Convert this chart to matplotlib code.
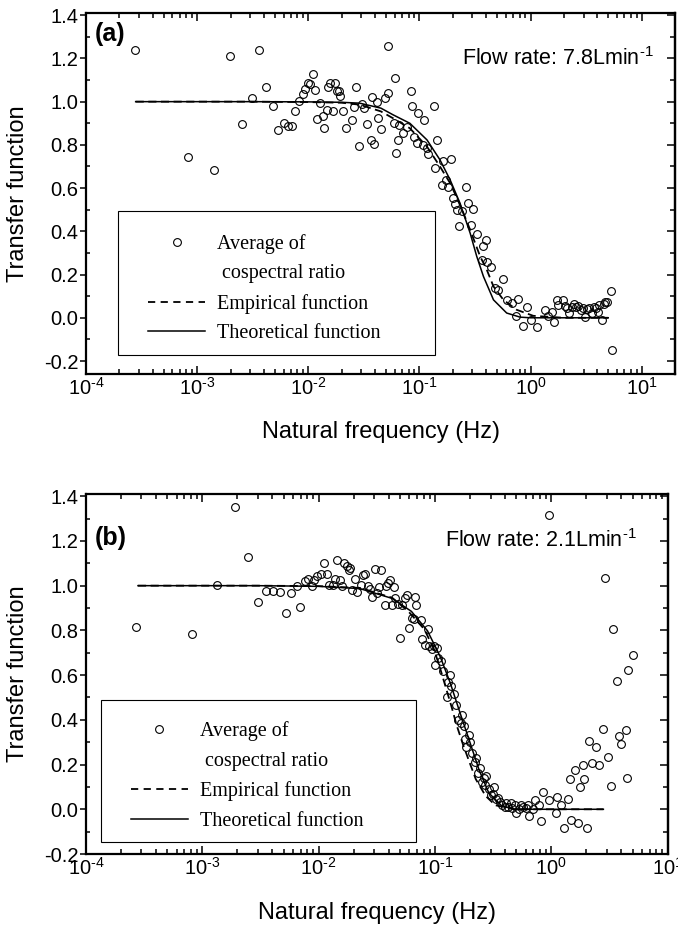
import matplotlib
matplotlib.use("Agg")
import matplotlib.pyplot as plt
import numpy as np
from matplotlib.lines import Line2D
from matplotlib.patches import Rectangle
from matplotlib.ticker import (MultipleLocator, LogLocator, FormatStrFormatter,
                               NullFormatter, FuncFormatter)

plt.rcParams['font.family'] = ['Liberation Sans', 'DejaVu Sans']
plt.rcParams['mathtext.fontset'] = 'custom'
plt.rcParams['mathtext.rm'] = 'Liberation Sans'
plt.rcParams['mathtext.it'] = 'Liberation Sans:italic'
plt.rcParams['mathtext.bf'] = 'Liberation Sans:bold'
plt.rcParams['mathtext.default'] = 'regular'
plt.rcParams['axes.unicode_minus'] = False

##### Values #####

# Panel (a), 7.8 L/min: cospectral ratio points (log10 of frequency, ratio)
a_logf = [-3.56, -3.08, -2.85, -2.70, -2.60, -2.51, -2.44, -2.38, -2.32, -2.27,
          -2.22, -2.18, -2.15, -2.12, -2.08, -2.05, -2.03, -2.00, -1.98, -1.96,
          -1.94, -1.92, -1.89, -1.87, -1.86, -1.83, -1.82, -1.80, -1.78, -1.76,
          -1.74, -1.72, -1.71, -1.69, -1.66, -1.61, -1.59, -1.57, -1.54, -1.28,
          -1.22, -1.08, -1.52, -1.50,
          -1.43, -1.38, -1.28, -1.31, -1.47, -1.37, -1.35, -1.44, -1.41, -1.21,
          -1.23, -1.18, -1.15, -1.11, -1.19, -1.07, -1.01, -0.96, -0.87, -1.05,
          -1.02, -0.97, -0.93, -0.92, -0.84, -0.79, -0.72, -0.86, -0.76, -0.80,
          -0.74, -0.58, -0.70, -0.68, -0.66, -0.62, -0.56, -0.52, -0.64, -0.54,
          -0.48, -0.40, -0.43, -0.44, -0.39, -0.36, -0.25, -0.32, -0.29, -0.21,
          -0.17, -0.11, -0.03, -0.07, 0.06, 0.13, 0.24, -0.13, 0.00,
          0.29, 0.33, 0.37, 0.41, 0.45, 0.49, 0.53, 0.57, 0.61, 0.64,
          0.66, 0.69, 0.72, 0.73, 0.19, 0.21, 0.25, 0.16,
          0.31, 0.35, 0.39, 0.43, 0.47, 0.51, 0.55, 0.59, 0.62, 0.67]
a_ratio = [1.237, 0.743, 0.685, 1.211, 0.897, 1.015, 1.238, 1.069, 0.980, 0.868,
           0.900, 0.886, 0.886, 0.958, 1.005, 1.035, 1.058, 1.088, 1.080, 1.126,
           1.055, 0.920, 0.995, 0.934, 0.877, 0.962, 1.068, 1.088, 0.958, 1.088,
           1.050, 1.048, 1.026, 0.957, 0.878, 0.914, 0.977, 1.066, 0.795, 1.258,
           1.111, 1.049, 0.990, 0.970,
           1.023, 1.000, 1.042, 1.016, 0.897, 0.923, 0.872, 0.823, 0.805, 0.764,
           0.903, 0.892, 0.857, 0.882, 0.823, 0.980, 0.946, 0.916, 0.980, 0.838,
           0.811, 0.800, 0.785, 0.758, 0.823, 0.727, 0.734, 0.692, 0.638, 0.615,
           0.604, 0.607, 0.556, 0.527, 0.500, 0.496, 0.533, 0.503, 0.425, 0.430,
           0.388, 0.361, 0.330, 0.268, 0.260, 0.237, 0.179, 0.137, 0.129, 0.083,
           0.068, 0.086, 0.052, -0.037, -0.043, 0.037, 0.080, 0.006, -0.009,
           0.081, 0.043, 0.050, 0.050, 0.035, 0.005, 0.043, 0.050, 0.027, -0.011,
           0.065, 0.073, 0.126, -0.148, 0.027, -0.018, 0.058, 0.010,
           0.055, 0.020, 0.065, 0.055, 0.045, 0.040, 0.020, 0.045, 0.060, 0.075]

# Panel (a) fitted curves (frequency in Hz, transfer function)
a_emp_f = [2.8e-4, 1e-3, 3e-3, 0.01, 0.02, 0.029, 0.045, 0.058, 0.082, 0.117, 0.153,
           0.189, 0.232, 0.286, 0.352, 0.404, 0.464, 0.57, 0.75, 1.06, 2.0, 5.0]
a_emp = [1.0, 1.0, 1.0, 0.998, 0.995, 0.986, 0.955, 0.923, 0.877, 0.792, 0.700,
         0.623, 0.523, 0.407, 0.284, 0.222, 0.145, 0.083, 0.037, 0.009, 0.0, 0.0]
a_theo_f = [2.8e-4, 1e-3, 3e-3, 0.01, 0.02, 0.029, 0.045, 0.058, 0.082, 0.117, 0.153,
            0.189, 0.232, 0.286, 0.328, 0.377, 0.464, 0.61, 0.805, 1.0, 2.0, 5.0]
a_theo = [1.0, 1.0, 1.0, 0.999, 0.997, 0.993, 0.970, 0.939, 0.900, 0.823, 0.731,
          0.638, 0.530, 0.392, 0.284, 0.191, 0.083, 0.022, 0.003, 0.0, 0.0, 0.0]

# Panel (b), 2.1 L/min: cospectral ratio points (log10 of frequency, ratio)
b_logf = [-3.57, -3.09, -2.87, -2.72, -2.61, -2.52, -2.45, -2.39, -2.33, -2.28,
          -2.24, -2.19, -2.16, -2.12, -2.09, -2.06, -2.04, -2.01, -1.98, -1.95,
          -1.93, -1.91, -1.88, -1.86, -1.84, -1.82, -1.80, -1.78, -1.76, -1.74,
          -1.73, -1.71, -1.69, -1.67, -1.64, -1.62, -1.60, -1.58, -1.56, -1.54,
          -1.52, -1.50, -1.48, -1.46, -1.43, -1.42, -1.40, -1.39, -1.37, -1.35,
          -1.34, -1.32, -1.30, -1.28, -1.26, -1.24, -1.22, -1.20, -1.18, -1.17,
          -1.16, -1.12, -1.11, -1.09, -1.06, -1.05, -1.03, -1.01, -0.98, -0.02,
          0.46, 0.53,
          -1.00, -0.97, -0.95, -0.93, -0.90, -0.89, -0.86, -0.84, -0.82, -0.80,
          -0.78, -0.75, -0.74, -0.73, -0.70, -0.68, -0.66, -0.63, -0.61, -0.60,
          -0.58, -0.56, -0.54, -0.52, -0.49, -0.48, -0.44, -0.42, -0.39, -0.37,
          -0.34, -0.31, -0.30, -0.26, -0.24, -0.22, -0.19, -0.14, -0.11, -0.09,
          -0.07, -0.02, 0.04, 0.05, 0.08, 0.11, 0.14, 0.16, 0.17, 0.20,
          0.23, 0.25, 0.27, 0.28, 0.31, 0.32, 0.35, 0.38, 0.41, 0.44,
          0.49, 0.51, 0.56, 0.58, 0.60, 0.64, 0.65, 0.66, 0.70,
          -0.87, -0.77, -0.71, -0.65, -0.57, -0.50, -0.46, -0.40, -0.35, -0.28,
          -0.20, -0.16]
b_ratio = [0.817, 0.786, 1.003, 1.350, 1.129, 0.929, 0.974, 0.974, 0.971, 0.876,
           0.967, 0.997, 0.904, 1.021, 1.029, 1.000, 1.026, 1.043, 1.053, 1.103,
           1.053, 1.003, 1.003, 1.031, 1.114, 1.026, 1.000, 1.100, 1.086, 1.071,
           1.079, 0.979, 1.031, 0.971, 1.003, 1.046, 1.054, 1.000, 0.983, 0.950,
           1.074, 0.969, 0.994, 1.071, 0.914, 1.000, 1.014, 1.026, 0.914, 0.993,
           0.943, 0.917, 0.764, 0.914, 0.943, 0.957, 0.811, 0.857, 0.850, 0.950,
           0.914, 0.846, 0.761, 0.736, 0.807, 0.731, 0.717, 0.729, 0.721, 1.314,
           1.036, 0.807,
           0.646, 0.675, 0.661, 0.617, 0.502, 0.567, 0.552, 0.516, 0.466, 0.401,
           0.387, 0.372, 0.314, 0.278, 0.300, 0.250, 0.213, 0.163, 0.185, 0.120,
           0.141, 0.149, 0.091, 0.062, 0.098, 0.048, 0.033, 0.019, 0.026, 0.012,
           0.004, 0.019, -0.017, 0.019, 0.012, 0.004, -0.032, 0.040, 0.019, -0.053,
           0.076, 0.040, -0.017, 0.055, 0.019, -0.082, 0.048, 0.134, -0.046, 0.177,
           -0.061, 0.098, 0.199, 0.134, -0.082, 0.304, 0.206, 0.278, 0.199, 0.358,
           0.235, 0.105, 0.574, 0.329, 0.290, 0.353, 0.141, 0.625, 0.689,
           0.600, 0.420, 0.330, 0.230, 0.110, 0.070, 0.050, 0.010, 0.030, 0.000,
           0.020, 0.000]

# Panel (b) fitted curves (frequency in Hz, transfer function)
b_emp_f = [2.8e-4, 1e-3, 3e-3, 0.01, 0.0226, 0.0428, 0.059, 0.081, 0.098, 0.110,
           0.123, 0.139, 0.153, 0.174, 0.198, 0.224, 0.272, 0.33, 0.48, 1.0, 2.8]
b_emp = [1.0, 1.0, 1.0, 0.998, 0.990, 0.946, 0.885, 0.805, 0.715, 0.635,
         0.550, 0.457, 0.378, 0.290, 0.210, 0.135, 0.060, 0.018, 0.0, 0.0, 0.0]
b_theo_f = [2.8e-4, 1e-3, 3e-3, 0.01, 0.0226, 0.0428, 0.0627, 0.0862, 0.111, 0.135,
            0.163, 0.198, 0.240, 0.290, 0.375, 0.48, 1.0, 2.8]
b_theo = [1.0, 1.0, 1.0, 0.997, 0.987, 0.943, 0.885, 0.798, 0.682, 0.566,
          0.436, 0.305, 0.174, 0.073, 0.015, 0.0, 0.0, 0.0]

legend_labels = ['Average of', ' cospectral ratio', 'Empirical function', 'Theoretical function']

##### End of values #####

dash = (0, (4.5, 2.5))


def decade_label(v, pos):
    # short hyphen in the exponent, as in the original figure
    e = int(round(np.log10(v)))
    if e < 0:
        return r'$\mathdefault{10^{\text{-}%d}}$' % (-e)
    return r'$\mathdefault{10^{%d}}$' % e


def draw_panel(ax, logf, ratio, emp_f, emp, theo_f, theo, xmax, ymin, tag, flow,
               tag_y, flow_xy, box, leg_anchor, xlab_y):
    ax.plot(10 ** np.array(logf), ratio, 'o', ms=5.6, mfc='none', mec='k', mew=0.8)
    ax.plot(emp_f, emp, color='k', lw=1.3, linestyle=dash)
    ax.plot(theo_f, theo, color='k', lw=1.1)

    ax.set_xscale('log')
    ax.set_xlim(1e-4, xmax)
    ax.set_ylim(ymin, 1.41)
    ax.xaxis.set_major_locator(LogLocator(base=10, numticks=10))
    ax.xaxis.set_major_formatter(FuncFormatter(decade_label))
    ax.xaxis.set_minor_locator(LogLocator(base=10, subs=np.arange(2, 10), numticks=20))
    ax.xaxis.set_minor_formatter(NullFormatter())
    ax.yaxis.set_major_locator(MultipleLocator(0.2))
    ax.yaxis.set_minor_locator(MultipleLocator(0.1))
    ax.yaxis.set_major_formatter(FormatStrFormatter('%.1f'))

    ax.tick_params(axis='x', which='both', direction='in', top=True, bottom=True,
                   labelsize=14.5, pad=2, width=1.1)
    ax.tick_params(axis='x', which='major', length=6)
    ax.tick_params(axis='x', which='minor', length=3.5)
    ax.tick_params(axis='y', which='both', right=False, labelsize=14.5, width=1.1)
    ax.tick_params(axis='y', which='major', direction='out', length=4.5, pad=1)
    ax.tick_params(axis='y', which='minor', direction='in', length=3)
    for s in ax.spines.values():
        s.set_linewidth(1.6)

    # right side ticks point inwards
    sec = ax.secondary_yaxis('right')
    sec.yaxis.set_major_locator(MultipleLocator(0.2))
    sec.yaxis.set_minor_locator(MultipleLocator(0.1))
    sec.tick_params(which='both', direction='in', labelright=False, width=1.1)
    sec.tick_params(which='major', length=6)
    sec.tick_params(which='minor', length=3.5)
    sec.spines['right'].set_linewidth(1.6)

    ax.set_xlabel('Natural frequency (Hz)', fontsize=17, va='center')
    ax.set_ylabel('Transfer function', fontsize=17, va='center')
    ax.xaxis.set_label_coords(0.5, xlab_y)
    ax.yaxis.set_label_coords(-68 / (ax.get_position().width * 678), 0.5)

    ax.text(0.015, tag_y, tag, transform=ax.transAxes, fontsize=18,
            fontweight='bold', ha='left', va='center')
    ax.text(flow_xy[0], flow_xy[1], flow, transform=ax.transAxes, fontsize=15.5,
            ha='right', va='center')

    ax.add_patch(Rectangle((box[0], box[1]), box[2], box[3], transform=ax.transAxes,
                           fill=False, ec='k', lw=0.8, zorder=1))
    handles = [Line2D([], [], ls='none', marker='o', ms=5.6, mfc='none', mec='k', mew=0.8),
               Line2D([], [], ls='none'),
               Line2D([], [], color='k', lw=1.3, linestyle=(0, (4, 3))),
               Line2D([], [], color='k', lw=1.1)]
    ax.legend(handles, legend_labels, loc='upper left', bbox_to_anchor=leg_anchor,
              frameon=False, borderpad=0, borderaxespad=0, handlelength=2.85,
              handletextpad=0.6, labelspacing=0.52,
              prop={'family': 'Liberation Serif', 'size': 14.5})


fig = plt.figure(figsize=(6.78, 9.31), dpi=100)
ax1 = fig.add_axes([0.1268, 0.5983, 0.869, 0.3877])
ax2 = fig.add_axes([0.1268, 0.0827, 0.858, 0.3867])

draw_panel(ax1, a_logf, a_ratio, a_emp_f, a_emp, a_theo_f, a_theo, 20, -0.26,
           '(a)', r'Flow rate: 7.8Lmin$^{\text{-}1}$', 0.942, (0.963, 0.875),
           (0.054, 0.0526, 0.5385, 0.399), (0.105, 0.388), -0.16)
draw_panel(ax2, b_logf, b_ratio, b_emp_f, b_emp, b_theo_f, b_theo, 10, -0.2,
           '(b)', r'Flow rate: 2.1Lmin$^{\text{-}1}$', 0.878, (0.947, 0.872),
           (0.0258, 0.033, 0.541, 0.395), (0.0766, 0.369), -0.165)

fig.savefig('out.png', dpi=100)
